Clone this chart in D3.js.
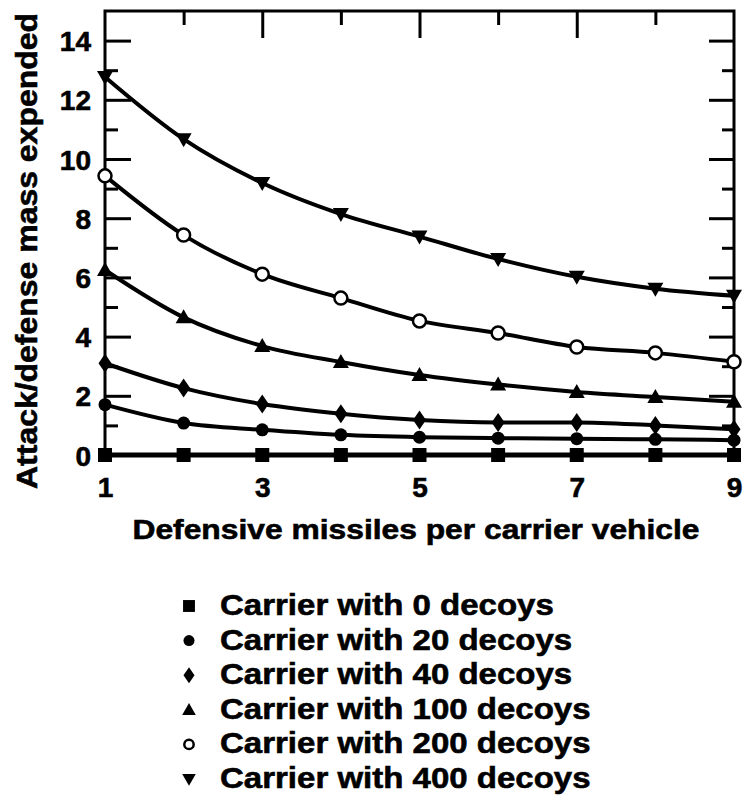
<!DOCTYPE html>
<html>
<head>
<meta charset="utf-8">
<script src="https://cdn.jsdelivr.net/npm/d3@7"></script>
<style>
  body { margin: 0; background: #fff; }
  text { font-family: 'Liberation Sans', Arial, sans-serif; font-weight: bold; fill: #000; stroke: #000; stroke-width: 0.6px; }
</style>
</head>
<body>
<svg id="chart" width="744" height="807"></svg>
<script>
'use strict'

// defensive missiles per carrier vehicle
const missiles = [1, 2, 3, 4, 5, 6, 7, 8, 9]

// attack/defense mass expended, one list per decoy load
const decoys0 = [0, 0, 0, 0, 0, 0, 0, 0, 0]
const decoys20 = [1.7, 1.08, 0.85, 0.68, 0.6, 0.57, 0.55, 0.53, 0.5]
const decoys40 = [3.1, 2.26, 1.72, 1.39, 1.18, 1.1, 1.1, 1.0, 0.87]
const decoys100 = [6.25, 4.65, 3.68, 3.14, 2.7, 2.38, 2.13, 1.96, 1.8]
const decoys200 = [9.43, 7.43, 6.11, 5.3, 4.53, 4.12, 3.65, 3.45, 3.15]
const decoys400 = [12.77, 10.67, 9.19, 8.14, 7.38, 6.62, 6.02, 5.62, 5.38]

const legendLabels = [
  'Carrier with 0 decoys',
  'Carrier with 20 decoys',
  'Carrier with 40 decoys',
  'Carrier with 100 decoys',
  'Carrier with 200 decoys',
  'Carrier with 400 decoys'
]

const xTicks = [1, 3, 5, 7, 9]
const yTicks = [0, 2, 4, 6, 8, 10, 12, 14]

const series = [
  {values: decoys0, marker: 'square'},
  {values: decoys20, marker: 'circle'},
  {values: decoys40, marker: 'diamond'},
  {values: decoys100, marker: 'up'},
  {values: decoys200, marker: 'open'},
  {values: decoys400, marker: 'down'}
]

const svg = d3.select('#chart')

const x = d3.scaleLinear().domain([1, 9]).range([105, 734])
const y = d3.scaleLinear().domain([0, 15]).range([455, 11])

// marker path for a given type, s = scale factor
const markerPath = (type, s) => {
  const p = d3.path()
  if (type === 'square') {
    p.rect(-7 * s, -7 * s, 14 * s, 14 * s)
  } else if (type === 'circle' || type === 'open') {
    p.arc(0, 0, 6.5 * s, 0, 2 * Math.PI)
  } else if (type === 'diamond') {
    p.moveTo(0, -9.5 * s); p.lineTo(6.5 * s, 0); p.lineTo(0, 9.5 * s); p.lineTo(-6.5 * s, 0); p.closePath()
  } else if (type === 'up') {
    p.moveTo(0, -8 * s); p.lineTo(8 * s, 6 * s); p.lineTo(-8 * s, 6 * s); p.closePath()
  } else if (type === 'down') {
    p.moveTo(0, 8 * s); p.lineTo(8 * s, -6 * s); p.lineTo(-8 * s, -6 * s); p.closePath()
  }
  return p.toString()
}

// ticks on the four sides, all pointing inward
const tickAxis = (axis, pos, values, size) => {
  svg.append('g')
    .attr('transform', pos)
    .call(axis.tickValues(values).tickSize(size).tickSizeOuter(0).tickFormat(''))
    .call(g => g.select('.domain').remove())
    .call(g => g.selectAll('line').attr('stroke', '#000').attr('stroke-width', 3))
}

const evens = [2, 4, 6, 8, 10, 12, 14]
const odds = [1, 3, 5, 7, 9, 11, 13]
tickAxis(d3.axisLeft(y), 'translate(105,0)', evens, -26)
tickAxis(d3.axisLeft(y), 'translate(105,0)', odds, -13)
tickAxis(d3.axisRight(y), 'translate(734,0)', evens, -25)
tickAxis(d3.axisRight(y), 'translate(734,0)', odds, -12)
tickAxis(d3.axisTop(x), 'translate(0,11)', [3, 5, 7], -27)
tickAxis(d3.axisTop(x), 'translate(0,11)', [2, 4, 6, 8], -14)

// tick labels
svg.append('g')
  .attr('transform', 'translate(105,0)')
  .call(d3.axisLeft(y).tickValues(yTicks).tickSize(0).tickPadding(14))
  .call(g => g.select('.domain').remove())
  .call(g => g.selectAll('text').style('font-size', '28px').attr('dy', '0.36em'))

svg.append('g')
  .attr('transform', 'translate(0,455)')
  .call(d3.axisBottom(x).tickValues(xTicks).tickSize(0).tickPadding(22))
  .call(g => g.select('.domain').remove())
  .call(g => g.selectAll('text').style('font-size', '28px'))

// frame
svg.append('rect')
  .attr('x', x(1)).attr('y', y(15))
  .attr('width', x(9) - x(1)).attr('height', y(0) - y(15))
  .attr('fill', 'none').attr('stroke', '#000').attr('stroke-width', 3)

// curves
const line = d3.line()
  .x((d, i) => x(missiles[i]))
  .y(d => y(d))
  .curve(d3.curveMonotoneX)

svg.append('g').selectAll('path')
  .data(series)
  .enter().append('path')
  .attr('d', d => line(d.values))
  .attr('fill', 'none')
  .attr('stroke', '#000')
  .attr('stroke-width', d => d.marker === 'square' ? 5 : 4)

// markers
series.forEach(s => {
  svg.append('g').selectAll('path')
    .data(s.values)
    .enter().append('path')
    .attr('transform', (d, i) => 'translate(' + x(missiles[i]) + ',' + y(d) + ')')
    .attr('d', markerPath(s.marker, 1))
    .attr('fill', s.marker === 'open' ? '#fff' : '#000')
    .attr('stroke', '#000')
    .attr('stroke-width', s.marker === 'open' ? 2.5 : 0)
})

// axis titles
svg.append('text')
  .attr('transform', 'translate(37,251) rotate(-90)')
  .attr('text-anchor', 'middle')
  .attr('textLength', 476)
  .attr('lengthAdjust', 'spacingAndGlyphs')
  .style('font-size', '30px')
  .text('Attack/defense mass expended')

svg.append('text')
  .attr('x', 416).attr('y', 539)
  .attr('text-anchor', 'middle')
  .attr('textLength', 567)
  .attr('lengthAdjust', 'spacingAndGlyphs')
  .style('font-size', '28px')
  .text('Defensive missiles per carrier vehicle')

// legend
const legend = svg.append('g').selectAll('g')
  .data(series)
  .enter().append('g')
  .attr('transform', (d, i) => 'translate(0,' + (615 + i * 34.6) + ')')

legend.append('path')
  .attr('transform', 'translate(189,-9)')
  .attr('d', d => markerPath(d.marker, d.marker === 'open' ? 0.72 : 0.85))
  .attr('fill', d => d.marker === 'open' ? '#fff' : '#000')
  .attr('stroke', '#000')
  .attr('stroke-width', d => d.marker === 'open' ? 2.5 : 0)

legend.append('text')
  .attr('x', 220)
  .style('font-size', '30px')
  .text((d, i) => legendLabels[i])
  .each(function () {
    const w = this.getComputedTextLength()
    d3.select(this).attr('textLength', w * 1.1).attr('lengthAdjust', 'spacingAndGlyphs')
  })
</script>
</body>
</html>
